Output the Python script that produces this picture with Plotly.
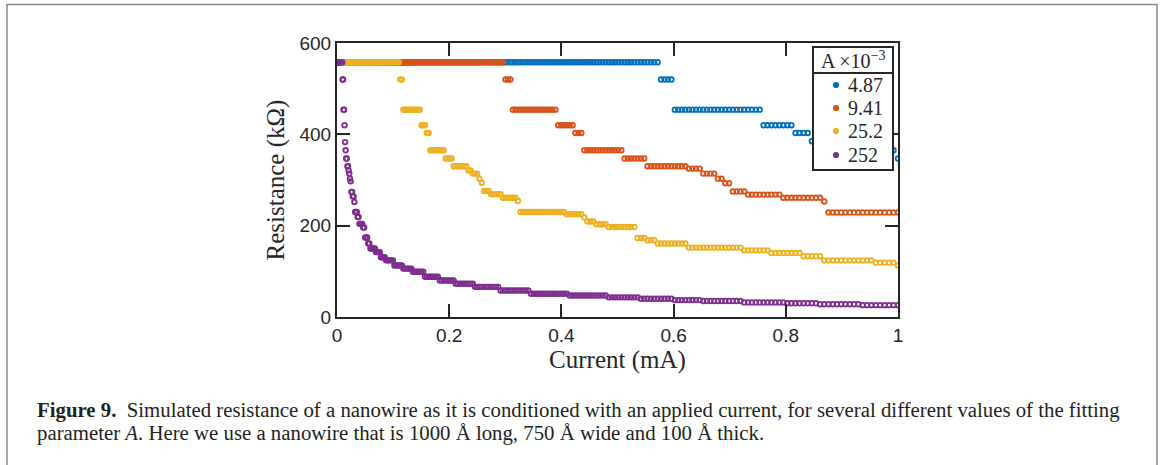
import numpy as np
import plotly.graph_objects as go

# ---------------- data ----------------
# current sweep samples in mA (simulation steps are denser at low current)
n_steps = 250
current = (np.arange(n_steps + 1) / n_steps) ** 2

series_names = ["4.87", "9.41", "25.2", "252"]
series_colors = ["#0072BD", "#D95319", "#EDB120", "#7E2F8E"]
legend_title = "A ×10<sup>−3</sup>"

# each series is a staircase: resistance level (kOhm) held until the given current (mA)
blue_ends = [0.572, 0.599, 0.760, 0.813, 0.843, 0.900, 0.995, 1.0]
blue_levels = [558, 520, 454, 420, 403, 385, 365, 347]

orange_ends = [0.300, 0.312, 0.394, 0.423, 0.437, 0.512, 0.552, 0.625, 0.650,
               0.675, 0.690, 0.703, 0.727, 0.790, 0.866, 0.873, 1.0]
orange_levels = [558, 520, 454, 420, 403, 365, 347, 330, 325,
                 314, 303, 293, 275, 268, 261, 253, 229]

yellow_ends = [0.112, 0.116, 0.148, 0.157, 0.164, 0.192, 0.206, 0.232, 0.242,
               0.250, 0.256, 0.262, 0.273, 0.294, 0.321, 0.326, 0.406, 0.437,
               0.445, 0.457, 0.483, 0.531, 0.552, 0.567, 0.626, 0.724, 0.772,
               0.825, 0.866, 0.955, 0.995, 1.0]
yellow_levels = [558, 520, 454, 420, 403, 365, 347, 330, 321,
                 314, 303, 294, 276, 269, 261, 254, 230, 225,
                 218, 209, 203, 197, 173, 168, 161, 152, 146,
                 140, 133, 124, 119, 113]

purple_ends = [0.010, 0.011, 0.013, 0.0135, 0.014, 0.015, 0.016, 0.018, 0.020,
               0.021, 0.022, 0.024, 0.025, 0.027, 0.030, 0.031, 0.036, 0.040,
               0.046, 0.050, 0.054, 0.059, 0.068, 0.077, 0.086, 0.100, 0.118,
               0.135, 0.155, 0.180, 0.210, 0.245, 0.290, 0.345, 0.410, 0.480,
               0.540, 0.600, 0.650, 0.720, 0.800, 0.860, 0.930, 1.0]
purple_levels = [558, 520, 454, 420, 403, 383, 365, 347, 330,
                 321, 314, 303, 297, 274, 264, 252, 230, 219,
                 204, 196, 174, 161, 150, 142, 131, 124, 113,
                 106, 99, 88, 80, 73, 66, 58, 51, 47,
                 43, 40, 37, 35, 32, 30, 28, 26]

series_ends = [blue_ends, orange_ends, yellow_ends, purple_ends]
series_levels = [blue_levels, orange_levels, yellow_levels, purple_levels]

x_ticks = [0, 0.2, 0.4, 0.6, 0.8, 1]
x_tick_text = ["0", "0.2", "0.4", "0.6", "0.8", "1"]
y_ticks = [0, 200, 400, 600]
y_tick_text = ["0", "200", "400", "600"]

caption_line1 = ("<b>Figure 9.</b>  Simulated resistance of a nanowire as it is conditioned "
                 "with an applied current, for several different values of the fitting")
caption_line2 = ("parameter <i>A</i>. Here we use a nanowire that is 1000 Å long, "
                 "750 Å wide and 100 Å thick.")

# ---------------- figure ----------------
W, H = 1165, 465
L, R, T, B = 337, 1165 - 898, 43, 465 - 317
PW, PH = W - L - R, H - T - B
AX = "#262626"
SERIF = "Liberation Serif"


def px(xp):
    return (xp - L) / PW


def py(yp):
    return (H - B - yp) / PH


fig = go.Figure()
for name, color, ends, levels in zip(series_names, series_colors, series_ends, series_levels):
    idx = np.searchsorted(np.array(ends), current, side="left")
    idx = np.clip(idx, 0, len(levels) - 1)
    res = np.array(levels, dtype=float)[idx]
    fig.add_trace(go.Scatter(
        x=current, y=res, mode="markers", name=name, showlegend=False,
        marker=dict(symbol="circle-open", size=4.6, color=color,
                    line=dict(width=1.8, color=color)),
    ))

fig.update_layout(
    width=W, height=H,
    margin=dict(l=L, r=R, t=T, b=B, autoexpand=False),
    paper_bgcolor="white", plot_bgcolor="white",
    showlegend=False,
    xaxis=dict(
        range=[0, 1], tickvals=x_ticks, ticktext=x_tick_text,
        showgrid=False, zeroline=False, showline=True, linecolor=AX, linewidth=2,
        mirror="allticks", ticks="inside", ticklen=13, tickwidth=2, tickcolor=AX,
        tickfont=dict(family="Liberation Sans", size=19, color=AX),
        title=dict(text="Current (mA)", font=dict(family=SERIF, size=25, color=AX), standoff=4),
        automargin=False,
    ),
    yaxis=dict(
        range=[0, 600], tickvals=y_ticks, ticktext=y_tick_text,
        showgrid=False, zeroline=False, showline=True, linecolor=AX, linewidth=2,
        mirror="allticks", ticks="inside", ticklen=13, tickwidth=2, tickcolor=AX,
        tickfont=dict(family="Liberation Sans", size=19, color=AX),
        title=dict(text="Resistance (kΩ)", font=dict(family=SERIF, size=25, color=AX), standoff=8),
        automargin=False,
    ),
)

# ---- legend box (drawn to match the MATLAB legend with a title cell) ----
lg_x0, lg_x1, lg_y0, lg_y1, lg_title_sep = 813, 893, 47, 170, 73
fig.add_shape(type="rect", xref="paper", yref="paper",
              x0=px(lg_x0), x1=px(lg_x1), y0=py(lg_y1), y1=py(lg_y0),
              line=dict(color=AX, width=2), fillcolor="white", layer="above")
fig.add_shape(type="line", xref="paper", yref="paper",
              x0=px(lg_x0), x1=px(lg_x1), y0=py(lg_title_sep), y1=py(lg_title_sep),
              line=dict(color=AX, width=2), layer="above")
fig.add_annotation(xref="paper", yref="paper", x=px(853), y=py(60),
                   xanchor="center", yanchor="middle", showarrow=False,
                   text=legend_title, font=dict(family=SERIF, size=20, color=AX))
row_y = [85, 108, 131, 155]
for name, color, ry in zip(series_names, series_colors, row_y):
    fig.add_shape(type="circle", xref="paper", yref="paper",
                  xsizemode="pixel", ysizemode="pixel",
                  xanchor=px(836), yanchor=py(ry), x0=-2.4, x1=2.4, y0=-2.4, y1=2.4,
                  line=dict(color=color, width=1.4), fillcolor=color, layer="above")
    fig.add_annotation(xref="paper", yref="paper", x=px(846), y=py(ry),
                       xanchor="left", yanchor="middle", showarrow=False,
                       text=name, font=dict(family=SERIF, size=20, color=AX))

# outer frame of the figure panel
fig.add_shape(type="rect", xref="paper", yref="paper",
              x0=px(7), x1=px(1157), y0=py(470), y1=py(4.5),
              line=dict(color="#8a8a8a", width=1.5), layer="below")

# caption
for text, ypix in [(caption_line1, 410), (caption_line2, 433)]:
    fig.add_annotation(xref="paper", yref="paper", x=px(35), y=py(ypix),
                       xanchor="left", yanchor="middle", showarrow=False,
                       text=text, font=dict(family=SERIF, size=20.8, color="#231f20"))

fig.write_html("out.html")
